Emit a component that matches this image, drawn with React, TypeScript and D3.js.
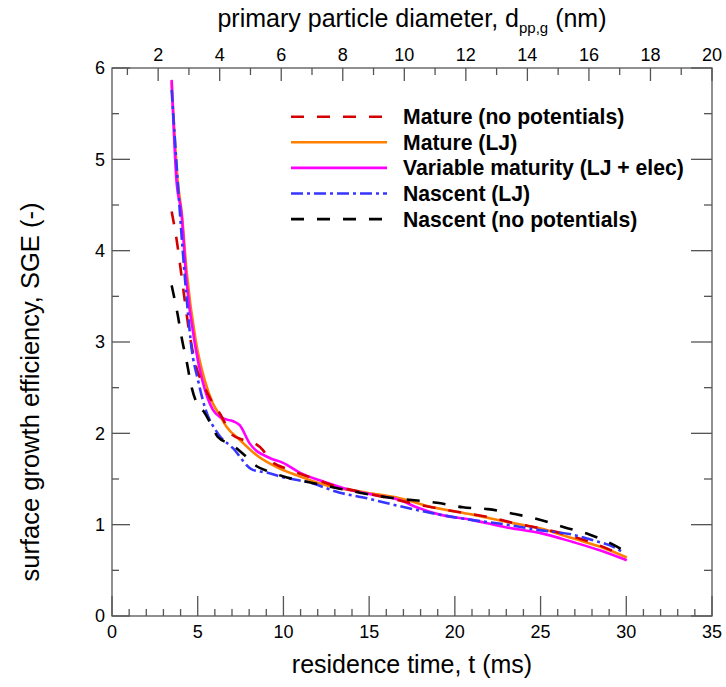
import React from "react";
import * as d3 from "d3";

// Residence time (ms) and surface growth efficiency for each simulation case
const matureNoPotT = [3.48, 3.77, 4.01, 4.24, 4.53, 4.88, 5.41, 5.88, 6.28, 7.04, 7.63, 8.33, 8.79, 9.2, 10.37, 11.54, 12.88, 14.46, 15.92, 17.38, 18.95, 20.47, 22.04, 23.62, 24.95, 26.53, 28.05, 29.33, 29.74];
const matureNoPotSGE = [4.43, 4.12, 3.79, 3.46, 3.08, 2.75, 2.5, 2.33, 2.22, 1.98, 1.93, 1.89, 1.82, 1.71, 1.6, 1.52, 1.43, 1.36, 1.3, 1.24, 1.18, 1.13, 1.08, 1.01, 0.96, 0.89, 0.8, 0.7, 0.66];

const matureLJT = [3.48, 3.83, 4.07, 4.36, 4.88, 5.41, 5.88, 6.28, 6.69, 7.45, 8.44, 9.61, 10.78, 12.53, 14.86, 16.78, 18.71, 21.04, 23.03, 24.95, 26.88, 28.45, 30.03];
const matureLJSGE = [5.85, 4.77, 4.41, 3.76, 3.02, 2.58, 2.33, 2.2, 2.07, 1.93, 1.76, 1.63, 1.54, 1.43, 1.35, 1.29, 1.19, 1.11, 1.03, 0.96, 0.85, 0.76, 0.64];

const variableT = [3.48, 3.76, 4.05, 4.34, 4.87, 5.27, 5.88, 6.28, 6.69, 7.1, 7.45, 8.03, 9.2, 9.95, 10.95, 12.53, 13.87, 15.44, 16.78, 17.77, 19.12, 21.04, 23.03, 24.95, 26.88, 28.45, 30.03];
const variableSGE = [5.87, 4.77, 4.41, 3.68, 2.94, 2.58, 2.26, 2.18, 2.15, 2.13, 2.09, 1.89, 1.73, 1.68, 1.57, 1.46, 1.38, 1.32, 1.27, 1.19, 1.11, 1.05, 0.97, 0.91, 0.81, 0.72, 0.61];

const nascentLJT = [3.48, 3.83, 4.11, 4.43, 4.63, 5.02, 5.41, 6.17, 7.04, 8.21, 9.03, 9.96, 11.54, 13.29, 14.86, 16.38, 19.12, 21.04, 23.03, 24.95, 26.88, 28.05, 29.21, 29.8];
const nascentLJSGE = [5.76, 4.77, 4.04, 3.32, 2.95, 2.58, 2.29, 2.0, 1.84, 1.6, 1.57, 1.52, 1.46, 1.35, 1.29, 1.22, 1.11, 1.05, 1.0, 0.94, 0.89, 0.83, 0.76, 0.7];

const nascentNoPotT = [3.48, 3.66, 3.83, 4.07, 4.36, 4.65, 5.0, 5.35, 5.88, 6.17, 7.04, 7.74, 8.44, 9.2, 9.96, 11.36, 12.88, 14.46, 16.03, 17.49, 18.95, 20.47, 21.93, 23.39, 24.85, 26.42, 27.88, 29.45, 29.8];
const nascentNoPotSGE = [3.62, 3.46, 3.3, 3.04, 2.78, 2.5, 2.31, 2.24, 2.06, 1.96, 1.87, 1.76, 1.64, 1.58, 1.53, 1.47, 1.41, 1.35, 1.3, 1.27, 1.24, 1.19, 1.17, 1.12, 1.06, 0.97, 0.89, 0.76, 0.72];

// Axis ticks
const timeTicks = [0, 5, 10, 15, 20, 25, 30, 35];
const diameterTicks = [2, 4, 6, 8, 10, 12, 14, 16, 18, 20];
const sgeTicks = [0, 1, 2, 3, 4, 5, 6];

const legendLabels = [
  "Mature (no potentials)",
  "Mature (LJ)",
  "Variable maturity (LJ + elec)",
  "Nascent (LJ)",
  "Nascent (no potentials)",
];

type Series = {
  label: string;
  t: number[];
  v: number[];
  color: string;
  dash: string;
};

const series: Series[] = [
  { label: legendLabels[0], t: matureNoPotT, v: matureNoPotSGE, color: "#d40000", dash: "13,13" },
  { label: legendLabels[1], t: matureLJT, v: matureLJSGE, color: "#ff8000", dash: "" },
  { label: legendLabels[2], t: variableT, v: variableSGE, color: "#ff00ff", dash: "" },
  { label: legendLabels[3], t: nascentLJT, v: nascentLJSGE, color: "#3636ff", dash: "12,4,3,4" },
  { label: legendLabels[4], t: nascentNoPotT, v: nascentNoPotSGE, color: "#000000", dash: "13,13" },
];

// Order in which curves are stacked
const drawOrder = [1, 2, 0, 3, 4];

const W = 726;
const H = 687;
const left = 112;
const right = 712;
const top = 68;
const bottom = 616;

const axisColor = "#555";
const font = "'Liberation Sans', Arial, Helvetica, sans-serif";

export default function App() {
  const x = d3.scaleLinear().domain([0, 35]).range([left, right]);
  const xTop = d3.scaleLinear().domain([0.5, 20]).range([left, right]);
  const y = d3.scaleLinear().domain([0, 6]).range([bottom, top]);

  const line = d3
    .line<[number, number]>()
    .x((d) => x(d[0]))
    .y((d) => y(d[1]))
    .curve(d3.curveMonotoneX);

  const xMinor = d3.range(0, 36, 1).filter((v) => v % 5 !== 0);
  const topMinor = d3.range(1, 20, 2);
  const yMinor = d3.range(0.5, 6, 1);

  const legendX0 = 291;
  const legendX1 = 387;
  const legendTextX = 403;
  const legendY0 = 116.7;
  const legendDy = 25.6;

  return (
    <svg
      width={W}
      height={H}
      style={{ position: "absolute", left: 0, top: 0, display: "block", background: "#fff" }}
      fontFamily={font}
    >
      <rect x={0} y={0} width={W} height={H} fill="#fff" />

      {/* frame */}
      <rect x={left} y={top} width={right - left} height={bottom - top} fill="none" stroke={axisColor} strokeWidth={1.3} />

      {/* bottom axis: residence time */}
      {timeTicks.map((t) => (
        <g key={"bt" + t}>
          <line x1={x(t)} x2={x(t)} y1={bottom} y2={bottom - 20} stroke={axisColor} strokeWidth={1.3} />
          <text x={x(t)} y={638} fontSize={18} textAnchor="middle" fill="#000">
            {t}
          </text>
        </g>
      ))}
      {xMinor.map((t) => (
        <line key={"bm" + t} x1={x(t)} x2={x(t)} y1={bottom} y2={bottom - 7} stroke={axisColor} strokeWidth={1.3} />
      ))}

      {/* top axis: primary particle diameter */}
      {diameterTicks.map((d) => (
        <g key={"tt" + d}>
          <line x1={xTop(d)} x2={xTop(d)} y1={top} y2={top + 13} stroke={axisColor} strokeWidth={1.3} />
          <text x={xTop(d)} y={61} fontSize={18} textAnchor="middle" fill="#000">
            {d}
          </text>
        </g>
      ))}
      {topMinor.map((d) => (
        <line key={"tm" + d} x1={xTop(d)} x2={xTop(d)} y1={top} y2={top + 7} stroke={axisColor} strokeWidth={1.3} />
      ))}

      {/* left and right axes: SGE */}
      {sgeTicks.map((v) => (
        <g key={"yt" + v}>
          <line x1={left} x2={left + 18} y1={y(v)} y2={y(v)} stroke={axisColor} strokeWidth={1.3} />
          <line x1={right} x2={right - 21} y1={y(v)} y2={y(v)} stroke={axisColor} strokeWidth={1.3} />
          <text x={105} y={y(v)} dy="0.35em" fontSize={18} textAnchor="end" fill="#000">
            {v}
          </text>
        </g>
      ))}
      {yMinor.map((v) => (
        <g key={"ym" + v}>
          <line x1={left} x2={left + 7} y1={y(v)} y2={y(v)} stroke={axisColor} strokeWidth={1.3} />
          <line x1={right} x2={right - 8} y1={y(v)} y2={y(v)} stroke={axisColor} strokeWidth={1.3} />
        </g>
      ))}

      {/* axis titles */}
      <text x={(left + right) / 2} y={673} fontSize={25} textAnchor="middle" fill="#000">
        residence time, t (ms)
      </text>
      <text x={(left + right) / 2} y={27} fontSize={25} textAnchor="middle" fill="#000">
        primary particle diameter, d
        <tspan fontSize={15} dy={6}>pp,g</tspan>
        <tspan dy={-6}> (nm)</tspan>
      </text>
      <text
        transform={`translate(39, 392) rotate(-90)`}
        fontSize={25.5}
        textAnchor="middle"
        fill="#000"
      >
        surface growth efficiency, SGE (-)
      </text>

      {/* curves */}
      <g clipPath="url(#plotClip)">
        {drawOrder.map((i) => {
          const s = series[i];
          const pts = s.t.map((t, k) => [t, s.v[k]] as [number, number]);
          return (
            <path
              key={s.label}
              d={line(pts) || ""}
              fill="none"
              stroke={s.color}
              strokeWidth={2.6}
              strokeDasharray={s.dash || undefined}
              strokeLinejoin="round"
            />
          );
        })}
      </g>
      <defs>
        <clipPath id="plotClip">
          <rect x={left} y={top} width={right - left} height={bottom - top} />
        </clipPath>
      </defs>

      {/* legend */}
      {series.map((s, i) => {
        const ly = legendY0 + i * legendDy;
        return (
          <g key={"lg" + i}>
            <line
              x1={legendX0}
              x2={legendX1}
              y1={ly}
              y2={ly}
              stroke={s.color}
              strokeWidth={2.6}
              strokeDasharray={s.dash || undefined}
            />
            <text x={legendTextX} y={ly + 7.5} fontSize={21.2} fontWeight="bold" fill="#000">
              {s.label}
            </text>
          </g>
        );
      })}
    </svg>
  );
}
